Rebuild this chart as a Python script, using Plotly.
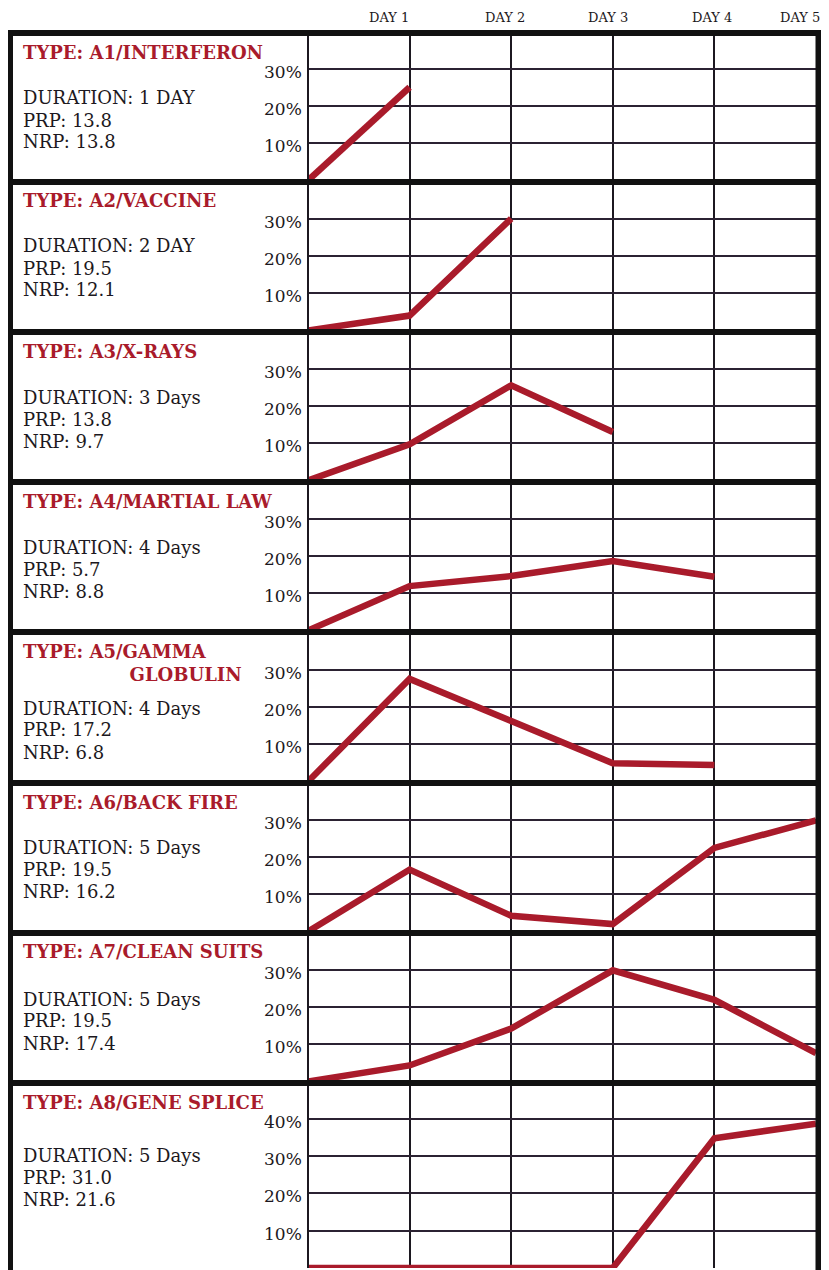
import plotly.graph_objects as go

# ---------------- data ----------------
days = [0, 1, 2, 3, 4, 5]
day_labels = ["DAY 1", "DAY 2", "DAY 3", "DAY 4", "DAY 5"]

types = ["TYPE: A1/INTERFERON", "TYPE: A2/VACCINE", "TYPE: A3/X-RAYS",
         "TYPE: A4/MARTIAL LAW", "TYPE: A5/GAMMA<br>" + "&nbsp;" * 17 + "GLOBULIN",
         "TYPE: A6/BACK FIRE", "TYPE: A7/CLEAN SUITS", "TYPE: A8/GENE SPLICE"]
durations = ["DURATION: 1 DAY", "DURATION: 2 DAY", "DURATION: 3 Days",
             "DURATION: 4 Days", "DURATION: 4 Days", "DURATION: 5 Days",
             "DURATION: 5 Days", "DURATION: 5 Days"]
prp = ["13.8", "19.5", "13.8", "5.7", "17.2", "19.5", "19.5", "31.0"]
nrp = ["13.8", "12.1", "9.7", "8.8", "6.8", "16.2", "17.4", "21.6"]

a1 = [0, 25]
a2 = [0, 4, 30]
a3 = [0, 9.7, 25.5, 13]
a4 = [0, 11.9, 14.6, 18.6, 14.4]
a5 = [0, 27.5, 16.2, 4.9, 4.4]
a6 = [0, 16.6, 4.2, 2, 22.4, 29.8]
a7 = [0, 4.3, 14.2, 29.8, 21.9, 7.6]
a8 = [0, 0, 0, 0, 34.8, 38.7]
series = [a1, a2, a3, a4, a5, a6, a7, a8]

y_ticks_std = [10, 20, 30]
y_ticks_last = [10, 20, 30, 40]

# ---------------- layout geometry (pixels of the page) ----------------
OFF = 8                      # default body margin of the html page
W, H = 829 - OFF, 1270 - OFF
tops = [33, 182, 332, 482, 632, 783, 933, 1083]
bottoms = [t - 1.5 for t in tops[1:]] + [1268]
text_offsets = [65, 64, 65, 65, 76, 64, 66, 72]
X0, X5 = 308, 816
LEFT, RIGHT = 10, 819

RED = "#a91b2b"
INK = "#1c1820"
GRID = "#2b2232"
SERIF = "DejaVu Serif"


def px(x):
    return (x - OFF) / W


def py(y):
    return 1 - (y - OFF) / H


fig = go.Figure()
layout = dict(
    width=W, height=H, margin=dict(l=0, r=0, t=0, b=0),
    paper_bgcolor="white", plot_bgcolor="white", showlegend=False,
)

annotations = []
shapes = []

for i, vals in enumerate(series):
    n = i + 1
    xa = "x" if n == 1 else f"x{n}"
    ya = "y" if n == 1 else f"y{n}"
    last = (i == len(series) - 1)
    T, B = tops[i], bottoms[i]
    ymax = (B - T) / 3.73
    ticks = y_ticks_last if last else y_ticks_std

    fig.add_trace(go.Scatter(
        x=days[:len(vals)], y=vals, mode="lines",
        line=dict(color=RED, width=6.5), xaxis=xa, yaxis=ya,
        hoverinfo="skip",
    ))

    layout["xaxis" if n == 1 else f"xaxis{n}"] = dict(
        domain=[px(X0), px(X5)], range=[0, 5], anchor=ya,
        tickvals=[1, 2, 3, 4], showticklabels=False, ticks="",
        showgrid=True, gridcolor=INK, gridwidth=2, zeroline=False,
        showline=False, fixedrange=True,
    )
    layout["yaxis" if n == 1 else f"yaxis{n}"] = dict(
        domain=[py(B), py(T)], range=[0, ymax], anchor=xa,
        tickvals=ticks, showticklabels=False,
        showgrid=True, gridcolor=GRID, gridwidth=1.5, zeroline=False,
        showline=False, ticks="", fixedrange=True,
    )
    # percentage labels, hanging just below their grid lines
    for v in ticks:
        annotations.append(dict(
            x=px(304), y=v, xref="paper", yref=ya, xanchor="right",
            yanchor="middle", yshift=-3, showarrow=False, text=f"{v}%",
            font=dict(family=SERIF, size=17, color=INK),
        ))

    # texts of the left part
    two_line = "<br>" in types[i]
    annotations.append(dict(
        x=px(21), y=py(T + (31 if two_line else 19)), xref="paper", yref="paper",
        xanchor="left", yanchor="middle", showarrow=False, align="left",
        text=f"<b>{types[i]}</b>",
        font=dict(family=SERIF, size=18, color=RED),
    ))
    off = text_offsets[i]
    for k, txt in enumerate([durations[i], f"PRP: {prp[i]}", f"NRP: {nrp[i]}"]):
        annotations.append(dict(
            x=px(21), y=py(T + off + 22 * k), xref="paper", yref="paper",
            xanchor="left", yanchor="middle", showarrow=False, text=txt,
            font=dict(family=SERIF, size=18, color=INK),
        ))

    # divider between text and plot
    shapes.append(dict(type="line", xref="paper", yref="paper",
                       x0=px(X0), x1=px(X0), y0=py(B), y1=py(T),
                       line=dict(color=INK, width=2)))

# header day labels
hdr_x = [389, 505, 608, 712, 800]
for lab, hx in zip(day_labels, hdr_x):
    annotations.append(dict(
        x=px(hx), y=py(17), xref="paper", yref="paper",
        xanchor="center", yanchor="middle", showarrow=False, text=lab,
        font=dict(family=SERIF, size=13, color=INK),
    ))

# thick panel separators and outer frame
for t in tops:
    shapes.append(dict(type="line", xref="paper", yref="paper",
                       x0=px(LEFT - 3), x1=px(RIGHT + 3), y0=py(t), y1=py(t),
                       line=dict(color="#111111", width=6)))
shapes.append(dict(type="line", xref="paper", yref="paper",
                   x0=px(LEFT), x1=px(LEFT), y0=py(tops[0]), y1=0,
                   line=dict(color="#111111", width=6)))
shapes.append(dict(type="line", xref="paper", yref="paper",
                   x0=px(RIGHT), x1=px(RIGHT), y0=py(tops[0]), y1=0,
                   line=dict(color="#111111", width=7)))

layout["annotations"] = annotations
layout["shapes"] = shapes
fig.update_layout(**layout)
fig.write_html("out.html")
